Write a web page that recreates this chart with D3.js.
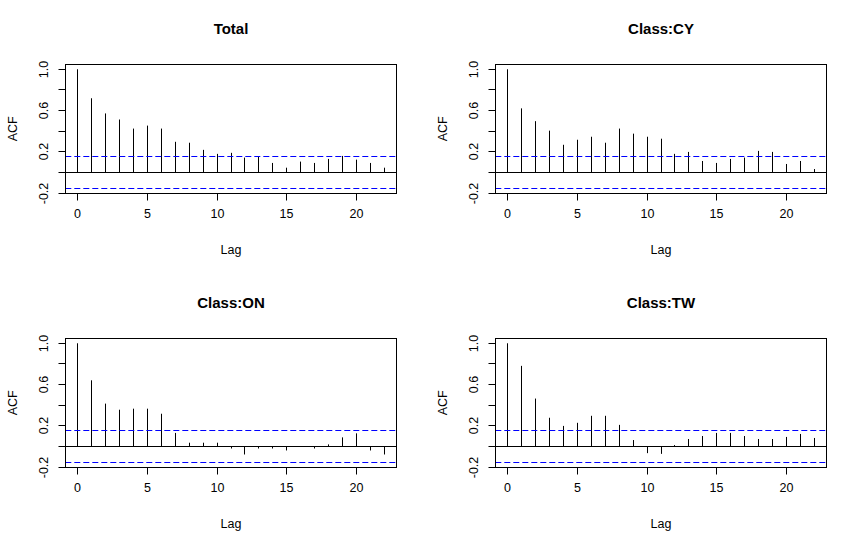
<!DOCTYPE html>
<html>
<head>
<meta charset="utf-8">
<script src="https://cdn.jsdelivr.net/npm/d3@7"></script>
<style>
  body { margin: 0; background: #fff; }
  svg { display: block; }
  text { font-family: "Liberation Sans", Arial, sans-serif; }
</style>
</head>
<body>
<div id="chart"></div>
<script>
// lags shown in every panel
const lags = d3.range(0, 23);
const xTicks = [0, 5, 10, 15, 20];
const yTicks = [-0.2, 0.0, 0.2, 0.4, 0.6, 0.8, 1.0];
const yTickLabels = ["-0.2", "", "0.2", "", "0.6", "", "1.0"];

// panel titles
const titles = ["Total", "Class:CY", "Class:ON", "Class:TW"];

// acf values
const acfTotal = [1.0, 0.719, 0.572, 0.513, 0.425, 0.454, 0.425, 0.297, 0.288, 0.219, 0.180, 0.190,
                  0.144, 0.157, 0.092, 0.046, 0.105, 0.092, 0.131, 0.160, 0.124, 0.092, 0.046];
const acfCY = [1.0, 0.621, 0.497, 0.405, 0.268, 0.317, 0.346, 0.288, 0.425, 0.376, 0.346, 0.327,
               0.180, 0.199, 0.111, 0.092, 0.131, 0.144, 0.209, 0.199, 0.082, 0.111, 0.033];
const acfON = [1.0, 0.641, 0.415, 0.356, 0.366, 0.366, 0.317, 0.131, 0.036, 0.036, 0.036, -0.02,
               -0.078, -0.02, -0.02, -0.039, -0.005, -0.02, 0.02, 0.088, 0.127, -0.039, -0.078];
const acfTW = [1.0, 0.781, 0.464, 0.278, 0.199, 0.229, 0.297, 0.297, 0.209, 0.062, -0.065, -0.072,
               0.013, 0.072, 0.101, 0.131, 0.131, 0.101, 0.072, 0.072, 0.092, 0.121, 0.082];

// confidence bound (blue dashed lines)
const clim = 0.155;

const width = 860, height = 548;
const panelW = 430, panelH = 274;
const box = {left: 65.3, right: 396.7, top: 64.5, bottom: 193.2};

const svg = d3.select("#chart").append("svg")
  .attr("width", width)
  .attr("height", height);

// put a 1px line on the pixel grid, given the panel offset
function snap(v, o)
{
  return Math.round(v + o - 0.5) + 0.5 - o;
}

function draw_panel(ox, oy, title, acf)
{
  const g = svg.append("g").attr("transform", `translate(${ox}, ${oy})`);

  // R style 4% expansion of the data range
  let xlo = d3.min(lags), xhi = d3.max(lags);
  let xpad = (xhi - xlo) * 0.04;
  let x = d3.scaleLinear().domain([xlo - xpad, xhi + xpad]).range([box.left, box.right]);

  let ylo = d3.min([-clim, ...acf]), yhi = d3.max([clim, ...acf]);
  let ypad = (yhi - ylo) * 0.04;
  let y = d3.scaleLinear().domain([ylo - ypad, yhi + ypad]).range([box.bottom, box.top]);

  let data = lags.map((l, i) => ({lag: l, acf: acf[i]}));
  let y0 = snap(y(0), oy);

  // spikes
  g.selectAll('line.spike')
    .data(data)
    .join('line')
      .attr('class', 'spike')
      .attr('x1', d => snap(x(d.lag), ox))
      .attr('x2', d => snap(x(d.lag), ox))
      .attr('y1', y0)
      .attr('y2', d => y(d.acf))
      .attr('stroke', 'black')
      .attr('stroke-width', 1);

  // zero line
  g.append('line')
    .attr('x1', box.left).attr('x2', box.right)
    .attr('y1', y0).attr('y2', y0)
    .attr('stroke', 'black');

  // confidence lines
  g.selectAll('line.ci')
    .data([clim, -clim])
    .join('line')
      .attr('class', 'ci')
      .attr('x1', box.left).attr('x2', box.right)
      .attr('y1', d => snap(y(d), oy)).attr('y2', d => snap(y(d), oy))
      .attr('stroke', '#0000ff')
      .attr('stroke-width', 1)
      .attr('stroke-dasharray', '6,3');

  // box
  let bl = snap(box.left, ox), br = snap(box.right, ox);
  let bt = snap(box.top, oy), bb = snap(box.bottom, oy);
  g.append('rect')
    .attr('x', bl).attr('y', bt)
    .attr('width', br - bl)
    .attr('height', bb - bt)
    .attr('fill', 'none')
    .attr('stroke', 'black');

  // x axis
  let xAxis = d3.axisBottom(x).tickValues(xTicks).tickSize(7).tickPadding(9).tickFormat(d3.format('d'));
  let gx = g.append('g')
    .attr('transform', `translate(0, ${bb})`)
    .call(xAxis);
  gx.select('.domain').remove();
  gx.selectAll('.tick').attr('transform', d => `translate(${snap(x(d), ox)},0)`);
  gx.selectAll('text')
    .attr('font-family', '"Liberation Sans", Arial, sans-serif')
    .attr('font-size', '12.5px')
    .attr('fill', 'black');

  // y axis, labels rotated like R
  let yAxis = d3.axisLeft(y).tickValues(yTicks).tickSize(7).tickFormat((d, i) => yTickLabels[i]);
  let gy = g.append('g')
    .attr('transform', `translate(${bl}, 0)`)
    .call(yAxis);
  gy.select('.domain').remove();
  gy.selectAll('.tick').attr('transform', d => `translate(0,${snap(y(d), oy)})`);
  gy.selectAll('text')
    .attr('x', null)
    .attr('dy', null)
    .attr('font-family', '"Liberation Sans", Arial, sans-serif')
    .attr('font-size', '12.5px')
    .attr('fill', 'black')
    .attr('text-anchor', 'middle')
    .attr('transform', 'translate(-18, 0) rotate(-90)');

  // title
  g.append("text")
    .attr("x", (box.left + box.right) / 2)
    .attr("y", 33.5)
    .attr("text-anchor", "middle")
    .attr("font-weight", "bold")
    .attr("font-size", "15px")
    .text(title);

  g.append("text")
    .attr("x", (box.left + box.right) / 2)
    .attr("y", 253.5)
    .attr("text-anchor", "middle")
    .attr("font-size", "12.5px")
    .text("Lag");

  g.append("text")
    .attr("transform", `translate(16.5, ${(box.top + box.bottom) / 2}) rotate(-90)`)
    .attr("text-anchor", "middle")
    .attr("font-size", "12.5px")
    .text("ACF");
}

draw_panel(0, 0, titles[0], acfTotal);
draw_panel(panelW, 0, titles[1], acfCY);
draw_panel(0, panelH, titles[2], acfON);
draw_panel(panelW, panelH, titles[3], acfTW);
</script>
</body>
</html>
